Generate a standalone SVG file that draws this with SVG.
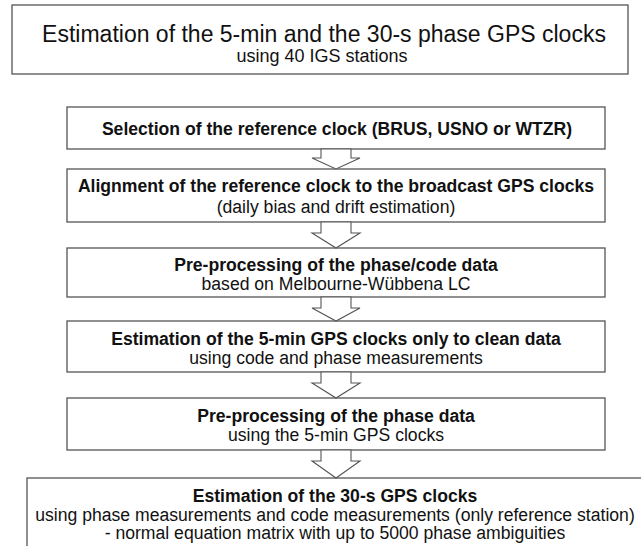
<svg xmlns="http://www.w3.org/2000/svg" width="641" height="546" viewBox="0 0 641 546">
<style>
.box{fill:#fff;stroke:#555;stroke-width:1.3}
.arr{fill:#fff;stroke:#555;stroke-width:1.1;stroke-linejoin:miter}
text{font-family:"Liberation Sans",Arial,sans-serif;fill:#111;text-anchor:middle}
.t{font-size:23px}
.s{font-size:18px}
.b{font-size:17.6px;font-weight:bold}
.r{font-size:17.6px}
</style>
<rect width="641" height="546" fill="#fff"/>
<g id="title">
<rect class="box" x="12" y="5" width="616" height="69"/>
<text class="t" x="324" y="42">Estimation of the 5-min and the 30-s phase GPS clocks</text>
<text class="s" x="322" y="62">using 40 IGS stations</text>
</g>
<g id="n1">
<rect class="box" x="67" y="107" width="538" height="42"/>
<text class="b" x="337" y="135">Selection of the reference clock (BRUS, USNO or WTZR)</text>
</g>
<g id="n2">
<rect class="box" x="67" y="169" width="538" height="53"/>
<text class="b" x="336" y="192">Alignment of the reference clock to the broadcast GPS clocks</text>
<text class="r" x="336" y="213">(daily bias and drift estimation)</text>
</g>
<g id="n3">
<rect class="box" x="67" y="248" width="538" height="49"/>
<text class="b" x="336" y="271">Pre-processing of the phase/code data</text>
<text class="r" x="336" y="290">based on Melbourne-Wübbena LC</text>
</g>
<g id="n4">
<rect class="box" x="67" y="321" width="538" height="51"/>
<text class="b" x="336" y="345">Estimation of the 5-min GPS clocks only to clean data</text>
<text class="r" x="336" y="364">using code and phase measurements</text>
</g>
<g id="n5">
<rect class="box" x="67" y="398" width="538" height="52"/>
<text class="b" x="336" y="422">Pre-processing of the phase data</text>
<text class="r" x="336" y="441">using the 5-min GPS clocks</text>
</g>
<g id="n6">
<rect class="box" x="27" y="478" width="630" height="80"/>
<text class="b" x="335" y="502">Estimation of the 30-s GPS clocks</text>
<text class="r" x="335" y="521">using phase measurements and code measurements (only reference station)</text>
<text class="r" x="335" y="539">- normal equation matrix with up to 5000 phase ambiguities</text>
</g>
<g id="connectors">
<polygon class="arr" points="321,149 321,158 312,158 336,169 360,158 351,158 351,149"/>
<polygon class="arr" points="321,222 321,233 312,233 336,248 360,233 351,233 351,222"/>
<polygon class="arr" points="321,297 321,308 312,308 336,321 360,308 351,308 351,297"/>
<polygon class="arr" points="321,372 321,383 312,383 336,398 360,383 351,383 351,372"/>
<polygon class="arr" points="321,450 321,461 312,461 336,478 360,461 351,461 351,450"/>
</g>
</svg>
